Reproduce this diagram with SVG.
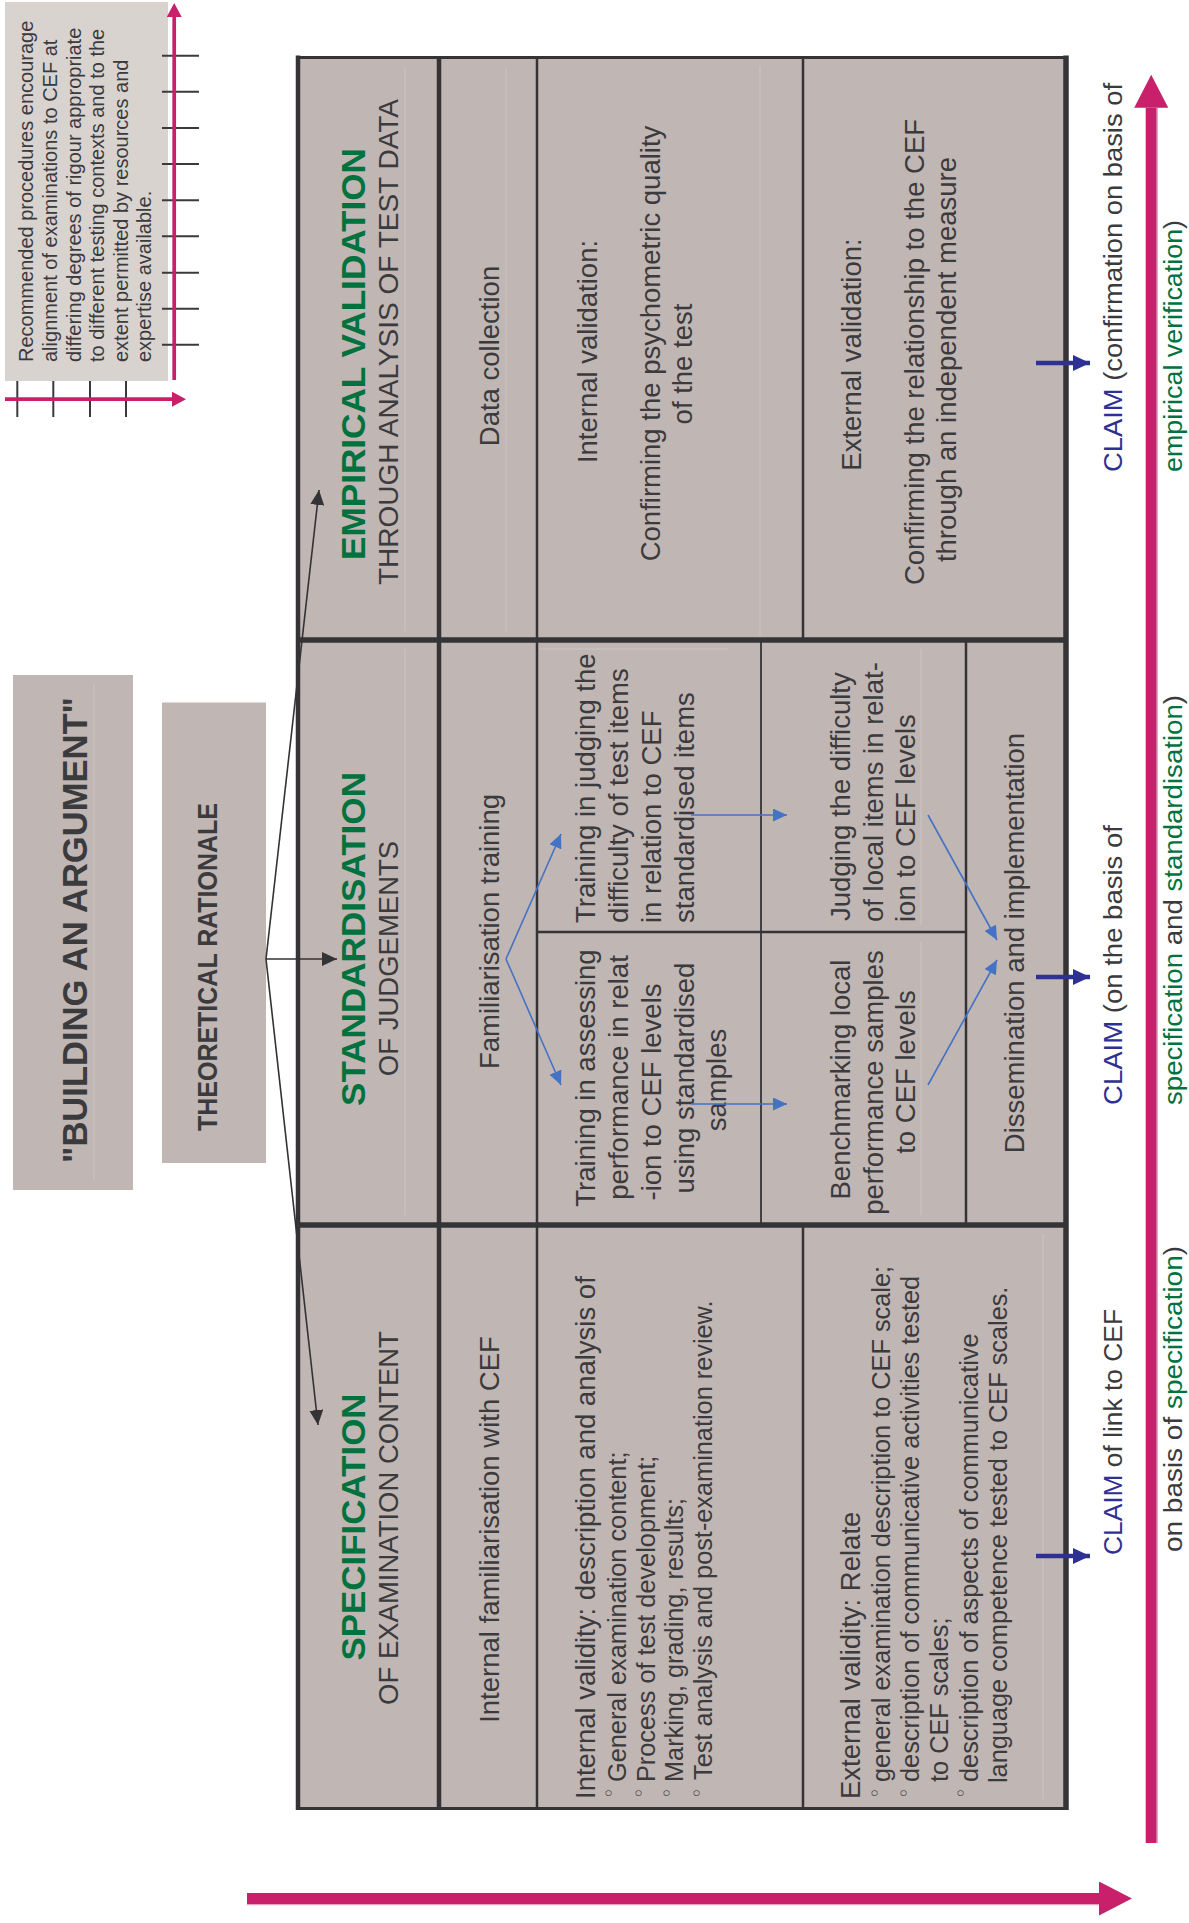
<svg xmlns="http://www.w3.org/2000/svg" width="1189" height="1923" viewBox="0 0 1189 1923">
<defs>
<style>
.tx{font-family:"Liberation Sans",Arial,Helvetica,sans-serif;fill:#3b3a3d}
.f20{font-size:20px}
.f25{font-size:25.3px}
.f27{font-size:27.5px}
.fc{font-size:25px}
.hb{font-weight:bold;font-size:34px;fill:#00723e}
.bt{font-weight:bold}
.mid{text-anchor:middle}
.blue{fill:#2e3192}
.green{fill:#00723e}
.bul{font-family:"DejaVu Sans","Liberation Sans",sans-serif;font-size:20px;fill:#3b3a3d;text-anchor:middle}
.cell{fill:#c0b6b3}
.grid{stroke:#343336;fill:none}
.faint{stroke:#cdc6c4;stroke-width:1;fill:none}
.tick{stroke:#3a393c;stroke-width:2}
.dk{stroke:#333235;stroke-width:1.6;fill:none}
.bl{stroke:#4472c4;stroke-width:1.6;fill:none}
.nv{stroke:#2e3192;stroke-width:4.5;fill:none}
.mg{stroke:#c8206a;fill:none}
</style>
<marker id="mDark" markerUnits="userSpaceOnUse" markerWidth="15" markerHeight="14" refX="15" refY="7" orient="auto"><path d="M0,0 L15,7 L0,14 z" fill="#333235"/></marker>
<marker id="mBlue" markerUnits="userSpaceOnUse" markerWidth="14" markerHeight="13" refX="14" refY="6.5" orient="auto"><path d="M0,0 L14,6.5 L0,13 z" fill="#4472c4"/></marker>
<marker id="mNavy" markerUnits="userSpaceOnUse" markerWidth="17" markerHeight="16" refX="17" refY="8" orient="auto"><path d="M0,0 L17,8 L0,16 z" fill="#2e3192"/></marker>
<marker id="mMagBig" markerUnits="userSpaceOnUse" markerWidth="33" markerHeight="34" refX="0" refY="17" orient="auto"><path d="M0,0 L33,17 L0,34 z" fill="#c8206a"/></marker>
<marker id="mMagSmall" markerUnits="userSpaceOnUse" markerWidth="14" markerHeight="15" refX="0" refY="7.5" orient="auto"><path d="M0,0 L14,7.5 L0,15 z" fill="#c8206a"/></marker>
</defs>
<rect x="0" y="0" width="1189" height="1923" fill="#ffffff"/>

<g id="legend">
<rect x="5" y="2" width="163" height="379" fill="#d9d3d0"/>
<text class="tx f20" x="33.3" y="362" transform="rotate(-90 33.3 362)">Recommended procedures encourage</text>
<text class="tx f20" x="57" y="362" transform="rotate(-90 57 362)">alignment of examinations to CEF at</text>
<text class="tx f20" x="80.5" y="362" transform="rotate(-90 80.5 362)">differing degrees of rigour appropriate</text>
<text class="tx f20" x="104" y="362" transform="rotate(-90 104 362)">to different testing contexts and to the</text>
<text class="tx f20" x="127.5" y="362" transform="rotate(-90 127.5 362)">extent permitted by resources and</text>
<text class="tx f20" x="150.5" y="362" transform="rotate(-90 150.5 362)">expertise available.</text>
<g class="tick">
<line x1="162" y1="55.7" x2="199" y2="55.7"/>
<line x1="162" y1="91.7" x2="199" y2="91.7"/>
<line x1="162" y1="128" x2="199" y2="128"/>
<line x1="162" y1="164" x2="199" y2="164"/>
<line x1="162" y1="200.3" x2="199" y2="200.3"/>
<line x1="162" y1="236.3" x2="199" y2="236.3"/>
<line x1="162" y1="272.7" x2="199" y2="272.7"/>
<line x1="162" y1="308.7" x2="199" y2="308.7"/>
<line x1="162" y1="344.7" x2="199" y2="344.7"/>
<line x1="17.3" y1="381" x2="17.3" y2="417"/>
<line x1="53.3" y1="381" x2="53.3" y2="417"/>
<line x1="90" y1="381" x2="90" y2="417"/>
<line x1="126" y1="381" x2="126" y2="417"/>
</g>
<line class="mg" x1="174.2" y1="380" x2="174.2" y2="17" stroke-width="3.7" marker-end="url(#mMagSmall)"/>
<line class="mg" x1="5" y1="399.2" x2="172" y2="399.2" stroke-width="3.7" marker-end="url(#mMagSmall)"/>
</g>

<g id="building">
<rect x="13" y="675" width="120" height="515" class="cell"/>
<line class="faint" x1="94" y1="684" x2="94" y2="1181" stroke="#c8c0bd"/>
<text class="tx bt mid" x="87" y="930" font-size="35" transform="rotate(-90 87 930)" textLength="466" lengthAdjust="spacingAndGlyphs">"BUILDING AN ARGUMENT"</text>
</g>

<g id="theoretical">
<rect x="162" y="702.5" width="104" height="460.5" class="cell"/>
<text class="tx bt mid" x="217" y="967" font-size="27" transform="rotate(-90 217 967)" textLength="328" lengthAdjust="spacingAndGlyphs">THEORETICAL RATIONALE</text>
</g>

<g id="table-grid">
<rect x="298" y="57" width="768" height="1751" class="cell"/>
<g class="faint">
<line x1="405" y1="68" x2="405" y2="631"/>
<line x1="506" y1="68" x2="506" y2="631"/>
<line x1="760" y1="66" x2="760" y2="637"/>
<line x1="405" y1="649" x2="405" y2="1215"/>
<line x1="539" y1="649" x2="728" y2="649"/>
<line x1="921" y1="649" x2="921" y2="925"/>
<line x1="921" y1="942" x2="921" y2="1215"/>
<line x1="1043" y1="1234" x2="1043" y2="1799"/>
</g>
<g class="grid">
<line x1="298" y1="55.5" x2="298" y2="1810" stroke-width="4.5"/>
<line x1="1066" y1="55.5" x2="1066" y2="1810" stroke-width="5.5"/>
<line x1="296" y1="57.4" x2="1068" y2="57.4" stroke-width="3"/>
<line x1="296" y1="1808.5" x2="1068" y2="1808.5" stroke-width="3"/>
<line x1="439" y1="57" x2="439" y2="1808" stroke-width="4.5"/>
<line x1="537" y1="57" x2="537" y2="1808" stroke-width="2.5"/>
<line x1="298" y1="640" x2="1066" y2="640" stroke-width="5.5"/>
<line x1="298" y1="1225" x2="1066" y2="1225" stroke-width="5.5"/>
<line x1="803" y1="57" x2="803" y2="640" stroke-width="2.5"/>
<line x1="803" y1="1225" x2="803" y2="1808" stroke-width="2.5"/>
<line x1="761" y1="640" x2="761" y2="1225" stroke-width="1.8"/>
<line x1="966" y1="640" x2="966" y2="1225" stroke-width="2.5"/>
<line x1="537" y1="932" x2="966" y2="932" stroke-width="2.5"/>
</g>
</g>

<g id="empirical-header">
<text class="tx hb mid" x="364.5" y="354" transform="rotate(-90 364.5 354)" textLength="412" lengthAdjust="spacingAndGlyphs">EMPIRICAL VALIDATION</text>
<text class="tx f27 mid" x="398" y="342" transform="rotate(-90 398 342)" textLength="486" lengthAdjust="spacingAndGlyphs">THROUGH ANALYSIS OF TEST DATA</text>
</g>
<g id="data-collection">
<text class="tx f27 mid" x="499" y="356" transform="rotate(-90 499 356)">Data collection</text>
</g>
<g id="internal-validation">
<text class="tx f27 mid" x="596.5" y="351.5" transform="rotate(-90 596.5 351.5)">Internal validation:</text>
<text class="tx f27 mid" x="660" y="343.5" transform="rotate(-90 660 343.5)">Confirming the psychometric quality</text>
<text class="tx f27 mid" x="692" y="364" transform="rotate(-90 692 364)">of the test</text>
</g>
<g id="external-validation">
<text class="tx f27 mid" x="860.5" y="354.5" transform="rotate(-90 860.5 354.5)">External validation:</text>
<text class="tx f27 mid" x="924" y="352" transform="rotate(-90 924 352)">Confirming the relationship to the CEF</text>
<text class="tx f27 mid" x="956" y="359.5" transform="rotate(-90 956 359.5)">through an independent measure</text>
</g>

<g id="standardisation-header">
<text class="tx hb mid" x="364.5" y="939" transform="rotate(-90 364.5 939)" textLength="334" lengthAdjust="spacingAndGlyphs">STANDARDISATION</text>
<text class="tx f27 mid" x="398" y="958.5" transform="rotate(-90 398 958.5)">OF JUDGEMENTS</text>
</g>
<g id="familiarisation-training">
<text class="tx f27 mid" x="499" y="931.5" transform="rotate(-90 499 931.5)">Familiarisation training</text>
</g>
<g id="training-judging">
<text class="tx f27" x="595" y="923" transform="rotate(-90 595 923)">Training in judging the</text>
<text class="tx f27" x="628" y="923" transform="rotate(-90 628 923)">difficulty of test items</text>
<text class="tx f27" x="661" y="923" transform="rotate(-90 661 923)">in relation to CEF</text>
<text class="tx f27" x="694" y="923" transform="rotate(-90 694 923)">standardised items</text>
</g>
<g id="training-assessing">
<text class="tx f27 mid" x="595" y="1078" transform="rotate(-90 595 1078)">Training in assessing</text>
<text class="tx f27 mid" x="628" y="1077.5" transform="rotate(-90 628 1077.5)">performance in relat</text>
<text class="tx f27 mid" x="661" y="1092" transform="rotate(-90 661 1092)">-ion to CEF levels</text>
<text class="tx f27 mid" x="694" y="1078" transform="rotate(-90 694 1078)">using standardised</text>
<text class="tx f27 mid" x="726" y="1080" transform="rotate(-90 726 1080)">samples</text>
</g>
<g id="judging-difficulty">
<text class="tx f27" x="850" y="921" transform="rotate(-90 850 921)">Judging the difficulty</text>
<text class="tx f27" x="882.5" y="922" transform="rotate(-90 882.5 922)">of local items in relat-</text>
<text class="tx f27" x="915" y="922" transform="rotate(-90 915 922)">ion to CEF levels</text>
</g>
<g id="benchmarking">
<text class="tx f27 mid" x="850" y="1079.5" transform="rotate(-90 850 1079.5)">Benchmarking local</text>
<text class="tx f27 mid" x="882.5" y="1082.5" transform="rotate(-90 882.5 1082.5)">performance samples</text>
<text class="tx f27 mid" x="915" y="1072" transform="rotate(-90 915 1072)">to CEF levels</text>
</g>
<g id="dissemination">
<text class="tx f27 mid" x="1024" y="943" transform="rotate(-90 1024 943)">Dissemination and implementation</text>
</g>

<g id="specification-header">
<text class="tx hb mid" x="364.5" y="1527" transform="rotate(-90 364.5 1527)" textLength="267" lengthAdjust="spacingAndGlyphs">SPECIFICATION</text>
<text class="tx f27 mid" x="398" y="1518" transform="rotate(-90 398 1518)">OF EXAMINATION CONTENT</text>
</g>
<g id="internal-familiarisation">
<text class="tx f27 mid" x="499" y="1529.5" transform="rotate(-90 499 1529.5)">Internal familiarisation with CEF</text>
</g>
<g id="internal-validity">
<text class="tx f27" x="594.5" y="1799" transform="rotate(-90 594.5 1799)">Internal validity: description and analysis of</text>
<text class="bul" x="616.3" y="1793" transform="rotate(-90 616.3 1793)">◦</text>
<text class="tx f25" x="625.6" y="1782" transform="rotate(-90 625.6 1782)">General examination content;</text>
<text class="bul" x="645.6" y="1793" transform="rotate(-90 645.6 1793)">◦</text>
<text class="tx f25" x="655" y="1782" transform="rotate(-90 655 1782)">Process of test development;</text>
<text class="bul" x="674.2" y="1793" transform="rotate(-90 674.2 1793)">◦</text>
<text class="tx f25" x="682.5" y="1782" transform="rotate(-90 682.5 1782)">Marking, grading, results;</text>
<text class="bul" x="703.6" y="1793" transform="rotate(-90 703.6 1793)">◦</text>
<text class="tx f25" x="711.8" y="1780" transform="rotate(-90 711.8 1780)">Test analysis and post-examination review.</text>
</g>
<g id="external-validity">
<text class="tx f27" x="860" y="1799" transform="rotate(-90 860 1799)">External validity: Relate</text>
<text class="bul" x="881.8" y="1793" transform="rotate(-90 881.8 1793)">◦</text>
<text class="tx f25" x="889.8" y="1782" transform="rotate(-90 889.8 1782)">general examination description to CEF scale;</text>
<text class="bul" x="911.1" y="1793" transform="rotate(-90 911.1 1793)">◦</text>
<text class="tx f25" x="919" y="1782" transform="rotate(-90 919 1782)">description of communicative activities tested</text>
<text class="tx f25" x="948" y="1782" transform="rotate(-90 948 1782)">to CEF scales;</text>
<text class="bul" x="968" y="1793" transform="rotate(-90 968 1793)">◦</text>
<text class="tx f25" x="977.7" y="1782" transform="rotate(-90 977.7 1782)">description of aspects of communicative</text>
<text class="tx f25" x="1007" y="1783" transform="rotate(-90 1007 1783)">language competence tested to CEF scales.</text>
</g>

<g id="claim-empirical">
<text class="tx fc" x="1122" y="472" transform="rotate(-90 1122 472)" textLength="389" lengthAdjust="spacingAndGlyphs"><tspan class="blue">CLAIM</tspan> (confirmation on basis of</text>
<text class="tx fc" x="1182" y="472" transform="rotate(-90 1182 472)" textLength="252" lengthAdjust="spacingAndGlyphs"><tspan class="green">empirical verification</tspan>)</text>
</g>
<g id="claim-standardisation">
<text class="tx fc" x="1122" y="1105" transform="rotate(-90 1122 1105)" textLength="280" lengthAdjust="spacingAndGlyphs"><tspan class="blue">CLAIM</tspan> (on the basis of</text>
<text class="tx fc" x="1182" y="1105" transform="rotate(-90 1182 1105)" textLength="410" lengthAdjust="spacingAndGlyphs"><tspan class="green">specification</tspan> and <tspan class="green">standardisation</tspan>)</text>
</g>
<g id="claim-specification">
<text class="tx fc" x="1122" y="1555" transform="rotate(-90 1122 1555)" textLength="246" lengthAdjust="spacingAndGlyphs"><tspan class="blue">CLAIM</tspan> of link to CEF</text>
<text class="tx fc" x="1182" y="1552" transform="rotate(-90 1182 1552)" textLength="306" lengthAdjust="spacingAndGlyphs">on basis of <tspan class="green">specification</tspan>)</text>
</g>

<g id="connectors">
<line class="dk" x1="266" y1="959" x2="319" y2="490" marker-end="url(#mDark)"/>
<line class="dk" x1="266" y1="959" x2="337" y2="959" marker-end="url(#mDark)"/>
<line class="dk" x1="266" y1="959" x2="318" y2="1425" marker-end="url(#mDark)"/>
<line class="bl" x1="506" y1="959" x2="561" y2="834" marker-end="url(#mBlue)"/>
<line class="bl" x1="506" y1="959" x2="561" y2="1085" marker-end="url(#mBlue)"/>
<line class="bl" x1="691" y1="815" x2="787" y2="815" marker-end="url(#mBlue)"/>
<line class="bl" x1="691" y1="1104" x2="787" y2="1104" marker-end="url(#mBlue)"/>
<line class="bl" x1="928" y1="815" x2="997" y2="940" marker-end="url(#mBlue)"/>
<line class="bl" x1="928" y1="1085" x2="997" y2="960" marker-end="url(#mBlue)"/>
<line class="nv" x1="1036" y1="363" x2="1090" y2="363" marker-end="url(#mNavy)"/>
<line class="nv" x1="1036" y1="977" x2="1090" y2="977" marker-end="url(#mNavy)"/>
<line class="nv" x1="1036" y1="1556" x2="1090" y2="1556" marker-end="url(#mNavy)"/>
<line class="mg" x1="1151.2" y1="1843" x2="1151.2" y2="107.7" stroke-width="11" marker-end="url(#mMagBig)"/>
<line x1="1157.4" y1="108" x2="1157.4" y2="1843" stroke="#e7a3c3" stroke-width="1.2"/>
<line class="mg" x1="247" y1="1898.5" x2="1099" y2="1898.5" stroke-width="11" marker-end="url(#mMagBig)"/>
<line x1="247" y1="1904.6" x2="1099" y2="1904.6" stroke="#e7a3c3" stroke-width="1.2"/>
</g>
</svg>
